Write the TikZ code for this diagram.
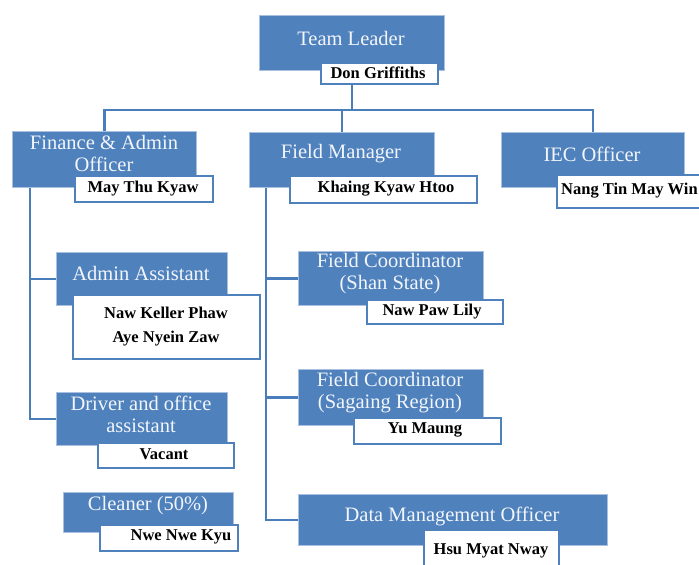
\documentclass[tikz,border=0pt]{standalone}
\usepackage{fontspec}
\setmainfont{Liberation Serif}
\definecolor{boxblue}{HTML}{4F81BD}
\definecolor{edgeblue}{HTML}{A9C0E0}
\definecolor{lineblue}{HTML}{4A7EBB}
\definecolor{titletext}{HTML}{F2F5FA}
\begin{document}
\begin{tikzpicture}[x=1pt,y=-1pt,
  rolebox/.style={fill=boxblue,draw=edgeblue,line width=0.8pt,inner sep=0pt,anchor=north west},
  namebox/.style={fill=white,draw=boxblue,line width=1.8pt,inner sep=0pt,anchor=north west},
  roletext/.style={text=titletext,font=\fontsize{20.5}{22}\selectfont,align=center,inner sep=0pt},
  nametext/.style={text=black,font=\fontsize{16.5}{24}\selectfont\bfseries,align=center,inner sep=0pt},
  conn/.style={draw=lineblue,line width=2.4pt}]
\useasboundingbox (0,0) rectangle (699,565);
\clip (0,0) rectangle (699,565);
% role boxes
\node[rolebox,minimum width=185,minimum height=55] (tl) at (259,15) {};
\node[rolebox,minimum width=184,minimum height=56] (fa) at (12,131) {};
\node[rolebox,minimum width=185,minimum height=55] (fm) at (249,132) {};
\node[rolebox,minimum width=183,minimum height=55] (iec) at (501,132) {};
\node[rolebox,minimum width=171,minimum height=53] (aa) at (56,252) {};
\node[rolebox,minimum width=185,minimum height=54] (fcs) at (298,251) {};
\node[rolebox,minimum width=171,minimum height=53] (drv) at (56,392) {};
\node[rolebox,minimum width=170,minimum height=40] (cln) at (63,492) {};
\node[rolebox,minimum width=185,minimum height=56] (fcg) at (298,369) {};
\node[rolebox,minimum width=309,minimum height=51] (dmo) at (298,494) {};
% connectors
\coordinate (bus) at (0,110);
\coordinate (faL) at (30,187);
\coordinate (fmL) at (266,187);
\draw[conn] (tl.south) -- (tl.south |- bus);
\draw[conn] (fa.north) -- (fa.north |- bus) -- (iec.north |- bus) -- (iec.north);
\draw[conn] (fm.north |- bus) -- (fm.north);
\draw[conn] (faL) |- (drv.west);
\draw[conn] (faL |- aa.west) -- (aa.west);
\draw[conn] (fmL) |- (dmo.west);
\draw[conn] (fmL |- fcs.west) -- (fcs.west);
\draw[conn] (fmL |- fcg.west) -- (fcg.west);
% redraw role boxes over connectors
\foreach \n in {tl,fa,fm,iec,aa,fcs,drv,cln,fcg,dmo}{
  \fill[boxblue] (\n.north west) rectangle (\n.south east);
  \draw[edgeblue,line width=0.8pt] (\n.north west) rectangle (\n.south east);}
% role texts
\node[roletext] (tlt) at (351,38) {Team Leader};
\node[roletext] (fat) at (104,153) {Finance \& Admin\\Officer};
\node[roletext] (fmt) at (341,154) {Field Manager};
\node[roletext] (iect) at (592,154) {IEC Officer};
\node[roletext] (aat) at (141,273) {Admin Assistant};
\node[roletext] (fcst) at (390,274) {Field Coordinator\\(Shan State)};
\node[roletext] (drvt) at (141,414) {Driver and office\\assistant};
\node[roletext] (clnt) at (148,506) {Cleaner (50\%)};
\node[roletext] (fcgt) at (390,393) {Field Coordinator\\(Sagaing Region)};
\node[roletext] (dmot) at (452,516) {Data Management Officer};
% name boxes
\node[namebox,minimum width=117,minimum height=21] (tln) at (320,62) {};
\node[namebox,minimum width=138,minimum height=26] (fan) at (74,175) {};
\node[namebox,minimum width=187,minimum height=27] (fmn) at (289,175) {};
\node[namebox,minimum width=160,minimum height=33] (iecn) at (556,174) {};
\node[namebox,minimum width=187,minimum height=64] (aan) at (72,294) {};
\node[namebox,minimum width=136,minimum height=24] (fcsn) at (366,299) {};
\node[namebox,minimum width=136,minimum height=25] (drvn) at (97,442) {};
\node[namebox,minimum width=138,minimum height=26] (clnn) at (99,524) {};
\node[namebox,minimum width=147,minimum height=26] (fcgn) at (353,417) {};
\node[namebox,minimum width=135,minimum height=50] (dmon) at (423,529) {};
% name texts
\node[nametext] (tlnt) at (378,73) {Don Griffiths};
\node[nametext] (fant) at (143,189) {May Thu Kyaw};
\node[nametext] (fmnt) at (386,189) {Khaing Kyaw Htoo};
\node[nametext,anchor=west] (iecnt) at (561,191) {Nang Tin May Win};
\node[nametext] (aant) at (166,327) {Naw Keller Phaw\\Aye Nyein Zaw};
\node[nametext] (fcsnt) at (432,312) {Naw Paw Lily};
\node[nametext] (drvnt) at (164,454) {Vacant};
\node[nametext] (clnnt) at (181,537) {Nwe Nwe Kyu};
\node[nametext] (fcgnt) at (425,430) {Yu Maung};
\node[nametext] (dmont) at (491,551) {Hsu Myat Nway};
\end{tikzpicture}
\end{document}
